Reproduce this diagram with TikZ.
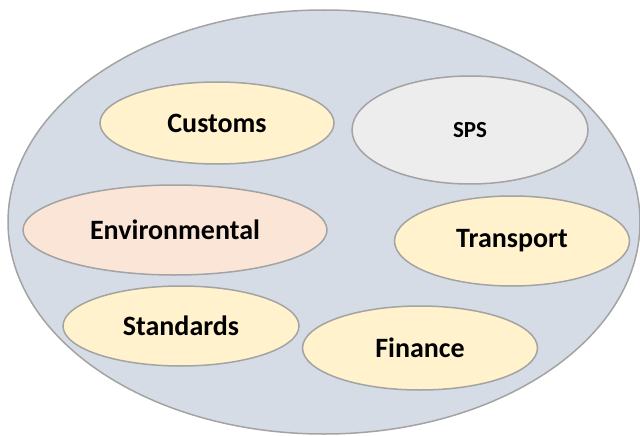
\documentclass[tikz,border=0pt]{standalone}
\usepackage{fontspec}
\setmainfont{Carlito}
\usetikzlibrary{shapes.geometric}
\definecolor{bigfill}{HTML}{D6DCE5}
\definecolor{edgegray}{HTML}{A3A3A3}
\definecolor{yel}{HTML}{FFF2CC}
\definecolor{pink}{HTML}{FBE5D6}
\definecolor{lgray}{HTML}{EDEDED}
\tikzset{
  blob/.style={ellipse, draw=edgegray, line width=1.5pt, inner sep=0pt,
    font=\fontsize{28}{30}\selectfont\bfseries, text=black},
}
\begin{document}
\begin{tikzpicture}[x=1pt,y=-1pt]
\useasboundingbox (0,0) rectangle (640,436);
\node[ellipse, draw=edgegray, fill=bigfill, line width=1.5pt, minimum width=632pt, minimum height=424pt, inner sep=0pt] (outer) at (324,222) {};
\node[blob, fill=yel, minimum width=234pt, minimum height=82pt] (customs) at (217,123) {Customs};
\node[blob, fill=lgray, minimum width=236pt, minimum height=108pt, font=\fontsize{23}{25}\selectfont\bfseries] (sps) at (470,130) {SPS};
\node[blob, fill=pink, minimum width=304pt, minimum height=90pt] (env) at (175,230) {Environmental};
\node[blob, fill=yel, minimum width=235pt, minimum height=90pt] (transport) at (512,241) {Transport};
\node[blob, fill=yel, minimum width=236pt, minimum height=80pt] (standards) at (181,326) {Standards};
\node[blob, fill=yel, minimum width=235pt, minimum height=84pt] (finance) at (420,348) {Finance};
\end{tikzpicture}
\end{document}
